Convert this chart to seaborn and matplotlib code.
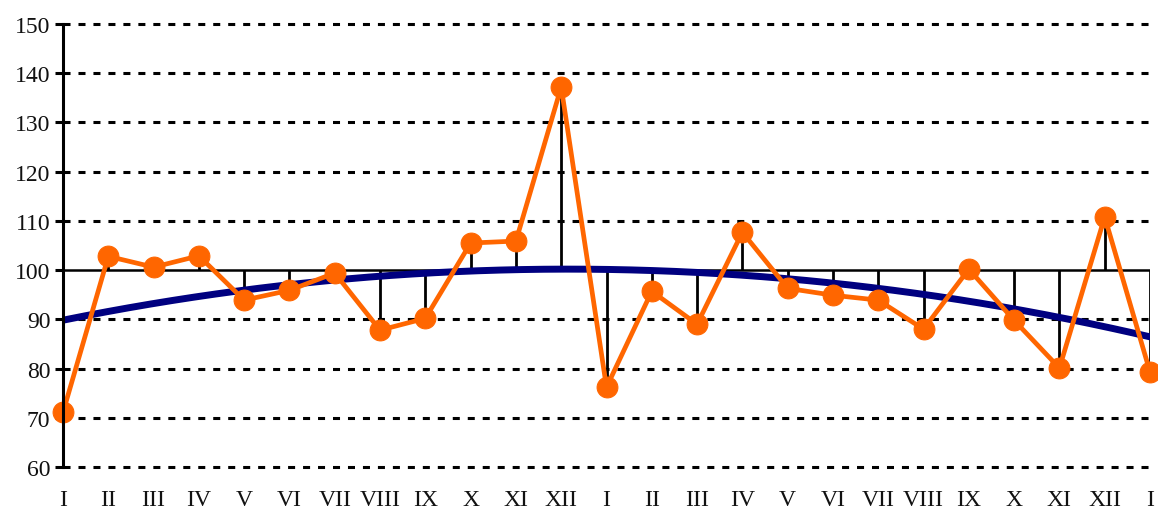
import numpy as np
import pandas as pd
import matplotlib
matplotlib.use("Agg")
import matplotlib.pyplot as plt
import seaborn as sns

months = ["I", "II", "III", "IV", "V", "VI", "VII", "VIII", "IX", "X", "XI", "XII",
          "I", "II", "III", "IV", "V", "VI", "VII", "VIII", "IX", "X", "XI", "XII", "I"]
values = [71.1, 102.8, 100.6, 102.9, 93.9, 95.9, 99.4, 87.8, 90.2, 105.5, 105.9, 137.2,
          76.2, 95.7, 89.0, 107.7, 96.3, 94.9, 93.9, 88.0, 100.2, 89.8, 80.1, 110.8, 79.3]
baseline = 100
y_ticks = [60, 70, 80, 90, 100, 110, 120, 130, 140, 150]

sns.set_style("white")
plt.rcParams["font.family"] = ["Liberation Serif", "DejaVu Serif"]

df = pd.DataFrame({"idx": np.arange(len(values)), "value": values})

fig = plt.figure(figsize=(11.58, 5.10), dpi=100)
ax = fig.add_axes([63/1158, 1-468/510, (1150-63)/1158, (468-25)/510])

for t in y_ticks:
    if t != baseline:
        ax.axhline(t, color="black", lw=2.2, ls=(0, (2.3, 2.6)), zorder=1, clip_on=False)
ax.axhline(baseline, color="black", lw=1.8, zorder=2)

ax.vlines(df["idx"], baseline, df["value"], color="black", lw=2.0, zorder=2)

coef = np.polyfit(df["idx"], df["value"], 2)
xs = np.linspace(0, len(values) - 1, 200)
sns.lineplot(x=xs, y=np.polyval(coef, xs), color="#000080", lw=5, ax=ax, zorder=4)

sns.lineplot(data=df, x="idx", y="value", color="#FF6600", lw=3.4, marker="o",
             markersize=15, markeredgecolor="#FF6600", ax=ax, zorder=5, clip_on=False)

ax.set_xlim(0, len(values) - 1)
ax.set_ylim(60, 150)
ax.set_yticks(y_ticks)
ax.set_xticks(df["idx"])
ax.set_xticklabels(months)
ax.set_xlabel("")
ax.set_ylabel("")
for s in ["top", "right", "bottom"]:
    ax.spines[s].set_visible(False)
ax.spines["left"].set_color("black")
ax.spines["left"].set_linewidth(2.2)
ax.spines["left"].set_zorder(6)
ax.tick_params(axis="y", left=True, length=6, width=2.2, color="black", labelsize=17, pad=3, labelcolor="#111111")
ax.tick_params(axis="x", bottom=False, labelsize=17, pad=12, labelcolor="#111111")

fig.savefig("out.png", dpi=100)
